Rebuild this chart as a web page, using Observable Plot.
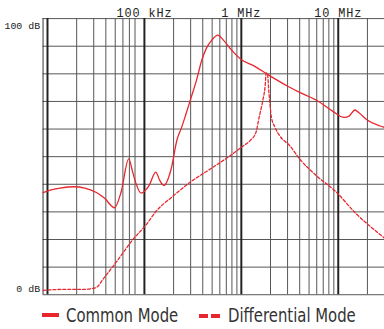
<!DOCTYPE html>
<html>
<head>
<meta charset="utf-8">
<script src="https://cdn.jsdelivr.net/npm/d3@7"></script>
<script src="https://cdn.jsdelivr.net/npm/@observablehq/plot@0.6"></script>
<style>
  html, body { margin: 0; padding: 0; background: #fff; overflow: hidden; width: 384px; height: 329px; }
  #chart svg { display: block; }
  g[font-size="12"] text { letter-spacing: 0.9px; }
  #legend { position: relative; width: 384px; height: 31px; font-family: "Liberation Sans Narrow", "DejaVu Sans Condensed", "Liberation Sans", sans-serif; font-size: 19px; color: #333; }
  #legend .sw { position: absolute; height: 4px; background: #e8262d; }
  #legend .lbl { position: absolute; line-height: 20px; white-space: nowrap; transform: scaleX(0.87); transform-origin: 0 50%; }
</style>
</head>
<body>
<div id="chart"></div>
<div id="legend"></div>
<script>
// ---- data (frequency in kHz, level in dB) ----
const seriesNames = ["Common Mode", "Differential Mode"];

const cmFreqKHz = [9.0, 10.7, 13.5, 18.5, 24.3, 32.0, 38.9, 49.2, 57.6, 68.9, 75.7, 82.6, 92.2, 112, 131, 144, 159, 187, 218, 242, 266, 299, 346, 392, 438, 496, 572, 653, 794, 1004, 1376, 1882, 3011, 3992, 5912, 8733, 11500, 12930, 14890, 16360, 19880, 27240, 30000];
const cmDB      = [37.0, 37.9, 38.6, 39.1, 38.6, 37.0, 34.9, 31.5, 37.3, 49.2, 44.4, 39.9, 36.8, 39.6, 44.4, 41.4, 39.6, 45.0, 56.4, 60.6, 65.0, 70.7, 77.9, 85.1, 89.4, 92.2, 94.0, 92.2, 88.6, 85.1, 82.7, 79.7, 75.5, 73.3, 70.5, 66.5, 64.2, 64.7, 66.9, 65.9, 63.3, 61.1, 60.6];

const dmFreqKHz = [9.0, 13.5, 21.6, 29.6, 33.0, 37.4, 49.2, 62.3, 75.7, 104, 131, 194, 301, 482, 770, 1046, 1232, 1419, 1505, 1673, 1754, 1808, 1859, 1926, 2043, 2219, 2496, 3156, 3992, 5912, 9460, 15140, 27240, 30000];
const dmDB      = [1.6, 1.9, 1.9, 2.3, 3.0, 5.6, 11.0, 15.9, 19.9, 25.3, 30.1, 35.5, 40.9, 45.6, 50.4, 53.9, 55.8, 58.9, 63.2, 70.7, 75.0, 80.3, 80.0, 73.2, 64.3, 60.7, 57.5, 54.0, 49.2, 43.2, 37.3, 29.5, 21.7, 20.5];

const majorGridKHz = [10, 100, 1000, 10000];
const minorGridKHz = [20, 30, 40, 50, 60, 70, 80, 200, 300, 400, 500, 600, 700, 800, 900, 2000, 3000, 4000, 5000, 6000, 7000, 8000, 9000, 20000];
const borderKHz = [9];
const dbGrid = [0, 10, 20, 30, 40, 50, 60, 70, 80, 90, 100];

const freqLabelKHz = [100, 1000, 10000];
const freqLabels = ["100 kHz", "1 MHz", "10 MHz"];
const dbLabelValues = [100, 0];
const dbLabels = ["100 dB", "0 dB"];

// ---- build ----
const RED = "#e8262d";
const cm = cmFreqKHz.map((f, i) => ({f, db: cmDB[i]}));
const dm = dmFreqKHz.map((f, i) => ({f, db: dmDB[i]}));
const topLabels = freqLabelKHz.map((f, i) => ({f, text: freqLabels[i]}));
const yLabels = dbLabelValues.map((v, i) => ({v, text: dbLabels[i]}));

const plot = Plot.plot({
  width: 388,
  height: 298,
  marginLeft: 43,
  marginRight: 0,
  marginTop: 18.3,
  marginBottom: 0.7,
  style: {background: "white", overflow: "visible"},
  x: {type: "log", domain: [9, 30000], axis: null},
  y: {domain: [0, 100], axis: null},
  marks: [
    Plot.ruleY(dbGrid, {stroke: "#555", strokeWidth: 1}),
    Plot.ruleX(minorGridKHz, {stroke: "#555", strokeWidth: 1}),
    Plot.ruleX(borderKHz, {stroke: "#333", strokeWidth: 1}),
    Plot.ruleX(majorGridKHz, {stroke: "#222", strokeWidth: 2}),
    Plot.line(dm, {x: "f", y: "db", stroke: RED, strokeWidth: 1.3, strokeDasharray: "3,2", curve: "monotone-x"}),
    Plot.line(cm, {x: "f", y: "db", stroke: RED, strokeWidth: 1.3, curve: "monotone-x"}),
    Plot.text(topLabels, {x: "f", y: () => 100, text: "text", dy: -5.5, fontFamily: "'Liberation Mono', 'DejaVu Sans Mono', monospace", fontSize: 12, fill: "#222", textAnchor: "middle"}),
    Plot.text(yLabels, {x: () => 9, y: "v", text: "text", dx: -3, fontFamily: "'Liberation Mono', 'DejaVu Sans Mono', monospace", fontSize: 10, fill: "#222", textAnchor: "end"})
  ]
});
document.getElementById("chart").appendChild(plot);

// shift the two dB labels (top one below its line, bottom one above)
d3.select(plot).selectAll('g[font-size="10"] text').attr("transform", function(d, i) {
  const base = d3.select(this).attr("transform") || "";
  return base + (i === 0 ? " translate(0,7)" : " translate(0,-5.5)");
});

// ---- legend ----
const lg = document.getElementById("legend");
lg.innerHTML =
  `<div class="sw" style="left:41.7px;top:18px;width:17px"></div>` +
  `<div class="lbl" style="left:66px;top:10px">${seriesNames[0]}</div>` +
  `<div class="sw" style="left:199.3px;top:19px;width:9px"></div>` +
  `<div class="sw" style="left:211.3px;top:19px;width:9px"></div>` +
  `<div class="lbl" style="left:227.7px;top:10px">${seriesNames[1]}</div>`;
</script>
</body>
</html>
